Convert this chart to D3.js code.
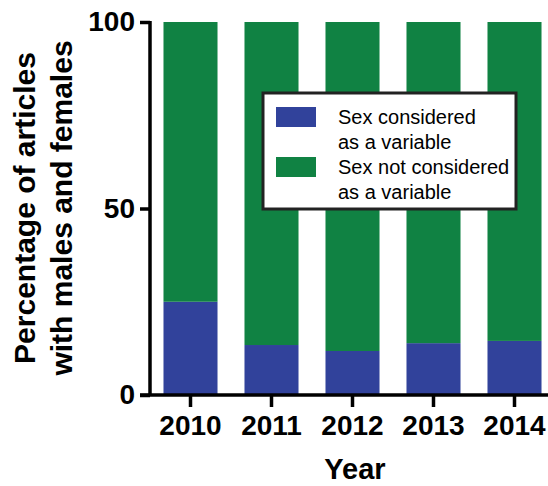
<html>
<head>
<style>
  body { margin: 0; background: #fff; }
  text { font-family: "Liberation Sans", Arial, sans-serif; }
</style>
</head>
<body>
<svg id="chart" width="548" height="486"></svg>
<script src="https://cdn.jsdelivr.net/npm/d3@7"></script>
<script>
var years = ["2010", "2011", "2012", "2013", "2014"];
var considered = [25, 13.4, 11.8, 13.9, 14.5];
var notConsidered = [75, 86.6, 88.2, 86.1, 85.5];
var yTicks = [0, 50, 100];
var legendLabels = [["Sex considered", "as a variable"], ["Sex not considered", "as a variable"]];
var colors = ["#31429b", "#108243"];

var svg = d3.select("#chart");
var x = d3.scaleBand().domain(years).range([150, 555]).paddingInner(0.333).paddingOuter(0.1665);
var y = d3.scaleLinear().domain([0, 100]).range([395, 22]);

var rows = years.map(function(yr, i){ return {year: yr, a: considered[i], b: notConsidered[i]}; });
var stack = d3.stack().keys(["a", "b"])(rows);

svg.selectAll("g.layer")
  .data(stack)
  .enter().append("g")
  .attr("fill", function(d, i){ return colors[i]; })
  .selectAll("rect")
  .data(function(d){ return d; })
  .enter().append("rect")
  .attr("x", function(d){ return x(d.data.year); })
  .attr("width", x.bandwidth())
  .attr("y", function(d){ return y(d[1]); })
  .attr("height", function(d){ return y(d[0]) - y(d[1]); });

// axes
var yAxis = svg.append("g").attr("transform", "translate(150,0)")
  .call(d3.axisLeft(y).tickValues(yTicks).tickSize(10).tickPadding(5));
var xAxis = svg.append("g").attr("transform", "translate(0,395)")
  .call(d3.axisBottom(x).tickSize(12).tickPadding(8));
[yAxis, xAxis].forEach(function(g){
  g.select(".domain").attr("stroke", "#000").attr("stroke-width", 3.5);
  g.selectAll(".tick line").attr("stroke", "#000").attr("stroke-width", 3.5);
  g.selectAll(".tick text").attr("fill", "#000").style("font-size", "28px").style("font-weight", "bold")
    .style("font-family", "'Liberation Sans', Arial, sans-serif");
});
yAxis.select(".domain").attr("d", "M0,395V21");
xAxis.select(".domain").attr("d", "M140,0H548");

// axis titles
svg.append("text").attr("x", 355).attr("y", 479).attr("text-anchor", "middle")
  .style("font-size", "29px").style("font-weight", "bold").text("Year");
var yt = svg.append("text").attr("transform", "translate(35,208) rotate(-90)").attr("text-anchor", "middle")
  .style("font-size", "30px").style("font-weight", "bold");
yt.append("tspan").attr("x", 0).attr("dy", 0).text("Percentage of articles");
yt.append("tspan").attr("x", 0).attr("dy", 37).text("with males and females");

// legend
var lg = svg.append("g");
lg.append("rect").attr("x", 263).attr("y", 93).attr("width", 253).attr("height", 116)
  .attr("fill", "#fff").attr("stroke", "#222").attr("stroke-width", 3);
legendLabels.forEach(function(lines, i){
  lg.append("rect").attr("x", 276).attr("y", 107 + i * 50).attr("width", 40).attr("height", 20).attr("fill", colors[i]);
  lines.forEach(function(t, j){
    lg.append("text").attr("x", 338).attr("y", 124 + i * 50 + j * 25).style("font-size", "20px").attr("fill", "#000").text(t);
  });
});
</script>
</body>
</html>
